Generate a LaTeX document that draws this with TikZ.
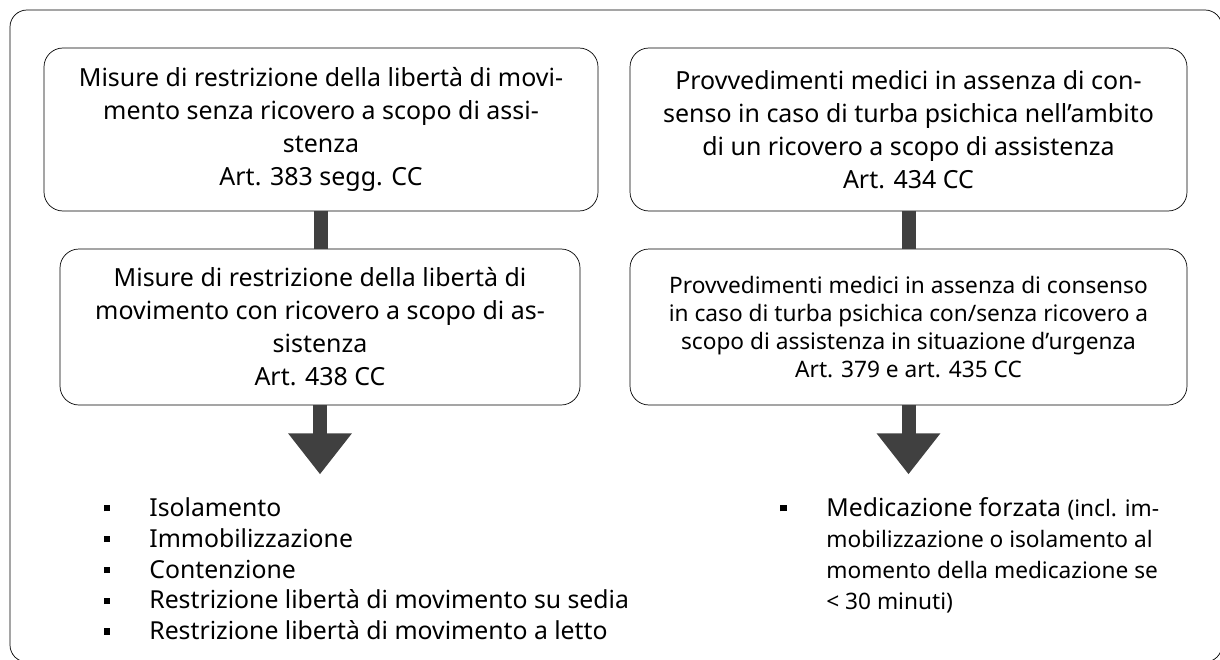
\documentclass[tikz,border=0pt]{standalone}
\usepackage{fontspec}
\setmainfont{Noto Sans}
\usetikzlibrary{positioning,arrows.meta}
\definecolor{linkgray}{HTML}{404040}
\newcommand{\boxfont}{\fontsize{14.2}{18.8}\selectfont}
\newcommand{\urgfont}{\fontsize{12.9}{16}\selectfont}
\newcommand{\listfont}{\fontsize{14.1}{17.6}\selectfont}
\newcommand{\notefont}{\fontsize{12.9}{17.6}\selectfont}
\newcommand{\sqbullet}{\rule[2.8pt]{0.13cm}{0.13cm}}

\begin{document}
\begin{tikzpicture}[
        box/.style={draw, rounded corners=0.38cm, align=center, minimum height=3.26cm, font=\boxfont},
        link/.style={draw=linkgray, line width=0.28cm},
        flow/.style={link, -{Triangle[width=1.22cm,length=0.82cm]}, color=linkgray},
        itemlist/.style={anchor=north west, inner sep=0pt, align=left, font=\listfont}]
        \useasboundingbox (0,0) rectangle (24.4,13.18);
        \draw[rounded corners=0.34cm] (0.2,-0.06) rectangle (24.44,12.98);
        \node[box, minimum width=11.08cm] at (6.42,10.59) (RestrSenza) {Misure di restrizione della libertà di movi-\\ mento senza ricovero a scopo di assi-\\ stenza\\ Art. 383 segg. CC};
        \node[box, minimum width=10.4cm, minimum height=3.12cm] at (6.40,6.64) (RestrCon) {Misure di restrizione della libertà di\\ movimento con ricovero a scopo di as-\\ sistenza\\ Art. 438 CC};
        \node[box, minimum width=11.14cm] at (18.17,10.59) (ProvvRic) {Provvedimenti medici in assenza di con-\\ senso in caso di turba psichica nell’ambito\\ di un ricovero a scopo di assistenza\\ Art. 434 CC};
        \node[box, minimum width=11.14cm, minimum height=3.12cm, font=\urgfont] at (18.17,6.64) (ProvvUrg) {Provvedimenti medici in assenza di consenso\\ in caso di turba psichica con/senza ricovero a\\ scopo di assistenza in situazione d’urgenza\\ Art. 379 e art. 435 CC};
        \coordinate[below=1.38cm of RestrCon] (RestrTip);
        \coordinate[below=1.38cm of ProvvUrg] (ProvvTip);
        \draw[link] (RestrSenza.south) -- (RestrSenza.south |- RestrCon.north);
        \draw[link] (ProvvRic) -- (ProvvUrg);
        \draw[flow] (RestrCon.south) -- (RestrTip);
        \draw[flow] (ProvvUrg.south) -- (ProvvTip);
        \node[itemlist] at (2.07,3.24) (MisureList) {\makebox[0.91cm][l]{\sqbullet}Isolamento\\
            \makebox[0.91cm][l]{\sqbullet}Immobilizzazione\\
            \makebox[0.91cm][l]{\sqbullet}Contenzione\\
            \makebox[0.91cm][l]{\sqbullet}Restrizione libertà di movimento su sedia\\
            \makebox[0.91cm][l]{\sqbullet}Restrizione libertà di movimento a letto};
        \node[itemlist] at (15.6,3.24) (MedList) {\makebox[0.92cm][l]{\sqbullet}Medicazione forzata {\notefont(incl. im-}\\
            \hspace*{0.92cm}{\notefont mobilizzazione o isolamento al}\\
            \hspace*{0.92cm}{\notefont momento della medicazione se}\\
            \hspace*{0.92cm}{\notefont < 30 minuti)}};
\end{tikzpicture}
\end{document}
